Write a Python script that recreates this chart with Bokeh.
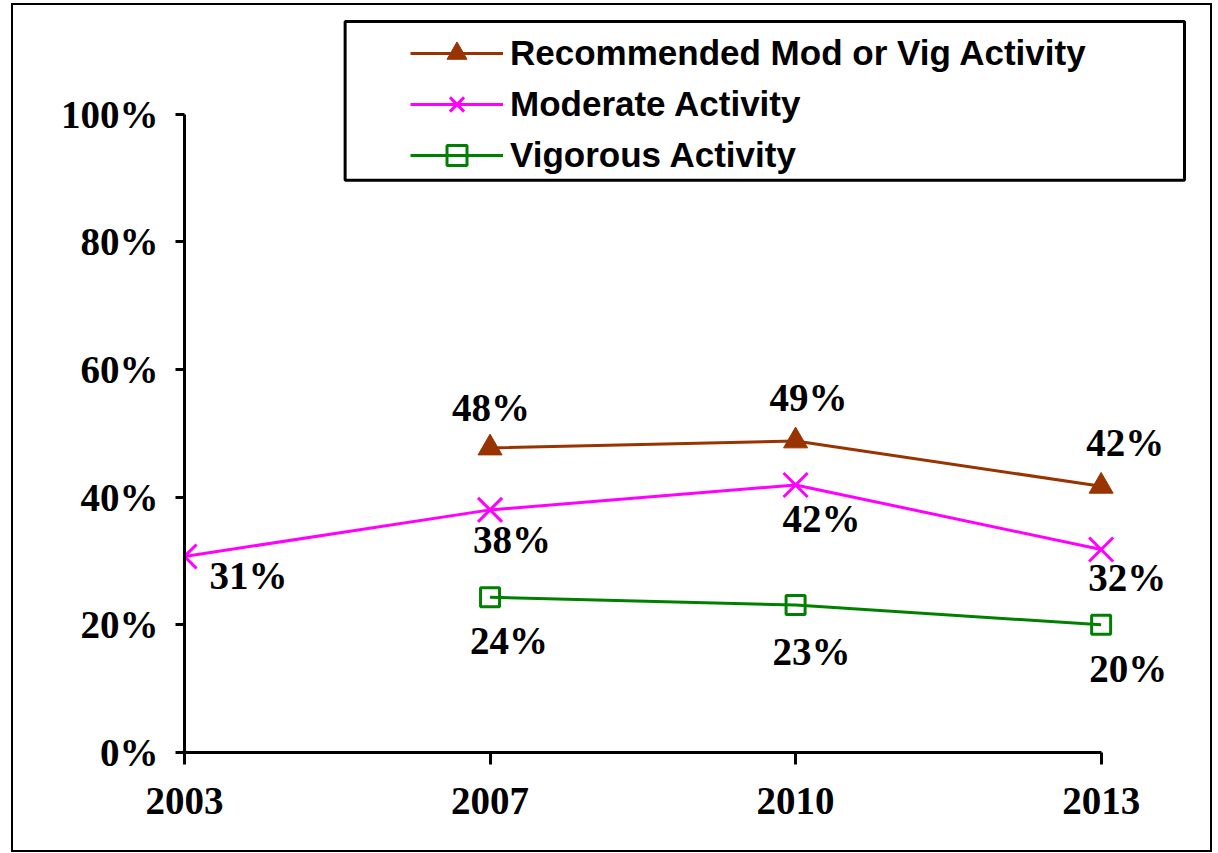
import math
from bokeh.plotting import figure
from bokeh.models import (ColumnDataSource, FixedTicker, Legend, LegendItem,
                          BoxAnnotation, Range1d)
from bokeh.core.properties import value
from bokeh.embed import file_html
from bokeh.resources import INLINE

# ---------------- data ----------------
years = ["2003", "2007", "2010", "2013"]
recommended = [float("nan"), 47.7, 48.8, 41.7]
moderate = [30.7, 38.0, 41.9, 31.8]
vigorous = [float("nan"), 24.3, 23.1, 20.0]
y_ticks = [0, 20, 40, 60, 80, 100]
series_names = ["Recommended Mod or Vig Activity", "Moderate Activity", "Vigorous Activity"]

# ---------------- styles ----------------
colors = ["#993300", "#FF00FF", "#008000"]
# data-label offsets in screen px (style only)
rec_dx = [0, 1, 13, 24]
rec_dy = [0, -40, -43, -44]
mod_dx = [64, 22, 26, 26]
mod_dy = [19, 30, 34, 28]
vig_dx = [0, 19, 16, 27]
vig_dy = [0, 43, 46, 44]

SERIF = value("Liberation Serif")
SANS = "Liberation Sans"

xs = list(range(len(years)))

p = figure(width=1201, height=849,
           x_range=Range1d(0, 3.3056), y_range=Range1d(0, 116.06),
           output_backend="svg", toolbar_location=None,
           min_border_left=171, min_border_right=20,
           min_border_top=6, min_border_bottom=102)
p.styles = {"border": "2px solid black", "margin-left": "11px", "margin-top": "3px"}
p.outline_line_color = None
p.grid.visible = False
p.background_fill_color = "white"
p.border_fill_color = "white"

# axes
for ax in (p.xaxis[0], p.yaxis[0]):
    ax.axis_line_width = 3
    ax.axis_line_color = "black"
    ax.major_tick_line_width = 3
    ax.major_tick_line_color = "black"
    ax.major_tick_in = 0
    ax.minor_tick_line_color = None
    ax.major_label_text_font = "Liberation Serif"
    ax.major_label_text_font_style = "bold"
    ax.major_label_text_font_size = "39px"
    ax.major_label_text_color = "black"

p.xaxis.ticker = FixedTicker(ticks=xs)
p.xaxis.major_label_overrides = {i: y for i, y in enumerate(years)}
p.xaxis.bounds = (0, len(years) - 1)
p.xaxis.major_tick_out = 12
p.xaxis.major_label_standoff = 23

p.yaxis.ticker = FixedTicker(ticks=y_ticks)
p.yaxis.major_label_overrides = {t: f"{t}%" for t in y_ticks}
p.yaxis.bounds = (0, 100)
p.yaxis.major_tick_out = 9
p.yaxis.major_label_standoff = 17


def make_source(vals):
    return ColumnDataSource(dict(x=xs, y=vals))


def label_source(vals, dx, dy):
    keep = [i for i, v in enumerate(vals) if not math.isnan(v)]
    return ColumnDataSource(dict(
        x=[xs[i] for i in keep], y=[vals[i] for i in keep],
        dx=[dx[i] for i in keep], dy=[dy[i] for i in keep],
        t=[f"{round(vals[i])}%" for i in keep],
    ))


series = [recommended, moderate, vigorous]
dxs = [rec_dx, mod_dx, vig_dx]
dys = [rec_dy, mod_dy, vig_dy]

items = []
for k, (vals, col) in enumerate(zip(series, colors)):
    src = make_source(vals)
    ln = p.line("x", "y", source=src, line_color=col, line_width=3)
    if k == 0:
        mk = p.scatter("x", "y", source=src, marker="triangle", size=24,
                       fill_color=col, line_color=col, line_width=1)
    elif k == 1:
        mk = p.scatter("x", "y", source=src, marker="x", size=34,
                       line_color=col, line_width=3)
    else:
        mk = p.scatter("x", "y", source=src, marker="square", size=19,
                       fill_alpha=0, line_color=col, line_width=3)
    lsrc = label_source(vals, dxs[k], dys[k])
    p.text("x", "y", text="t", source=lsrc, x_offset="dx", y_offset="dy",
           text_font=SERIF, text_font_style="bold", text_font_size="39px",
           text_color="black", text_align="center", text_baseline="middle")
    items.append(LegendItem(label=series_names[k], renderers=[ln, mk]))

# legend frame
box = BoxAnnotation(left=0.5257, right=3.2728, top=114.49, bottom=89.61,
                    fill_alpha=0, line_color="black", line_width=3,
                    line_alpha=1)
p.add_layout(box)

legend = Legend(items=items, location=(226, 572), orientation="vertical",
                glyph_width=93, glyph_height=50, label_height=50,
                label_standoff=7, spacing=1, padding=0, margin=0,
                border_line_alpha=0, background_fill_alpha=0,
                label_text_font=SANS, label_text_font_style="bold",
                label_text_font_size="35px", label_text_color="black")
p.add_layout(legend)

open("out.html", "w").write(file_html(p, INLINE))
